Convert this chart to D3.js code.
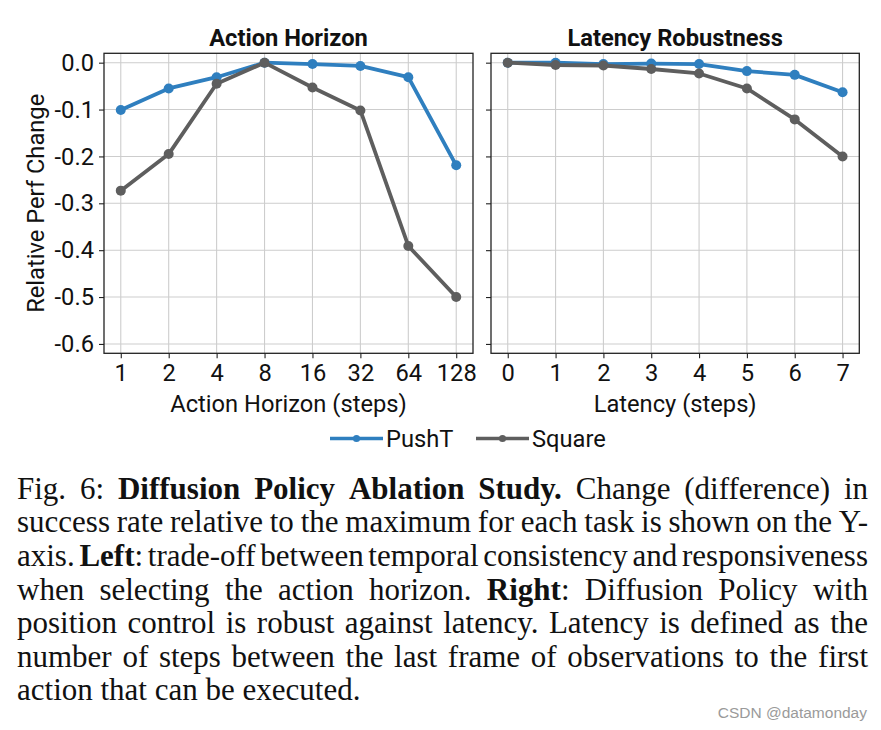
<!DOCTYPE html>
<html>
<head>
<meta charset="utf-8">
<script src="https://cdn.jsdelivr.net/npm/d3@7"></script>
<style>
  html, body { margin: 0; padding: 0; background: #fff; }
  svg { display: block; }
</style>
</head>
<body>
<svg id="chart" width="881" height="730"></svg>
<script>
// ---------- data ----------
const horizonCats = ["1", "2", "4", "8", "16", "32", "64", "128"];
const latencyCats = ["0", "1", "2", "3", "4", "5", "6", "7"];
const horizonPushT  = [-0.101, -0.055, -0.031, 0.000, -0.003, -0.007, -0.031, -0.219];
const horizonSquare = [-0.273, -0.195, -0.045, 0.000, -0.053, -0.102, -0.391, -0.500];
const latencyPushT  = [0.000, 0.000, -0.003, -0.002, -0.003, -0.018, -0.026, -0.063];
const latencySquare = [0.000, -0.005, -0.006, -0.0135, -0.023, -0.055, -0.121, -0.200];
const yTicks = [0, -0.1, -0.2, -0.3, -0.4, -0.5, -0.6];
const yTickLabels = ["0.0", "-0.1", "-0.2", "-0.3", "-0.4", "-0.5", "-0.6"];
const seriesNames = ["PushT", "Square"];
const seriesColors = ["#2f7fbf", "#5e5e5e"];
const panelTitles = ["Action Horizon", "Latency Robustness"];
const xLabels = ["Action Horizon (steps)", "Latency (steps)"];
const yLabel = "Relative Perf Change";

const captionLines = [
  [["Fig. 6: ", false], ["Diffusion Policy Ablation Study.", true], [" Change (difference) in", false]],
  [["success rate relative to the maximum for each task is shown on the Y-", false]],
  [["axis. ", false], ["Left", true], [": trade-off between temporal consistency and responsiveness", false]],
  [["when selecting the action horizon. ", false], ["Right", true], [": Diffusion Policy with", false]],
  [["position control is robust against latency. Latency is defined as the", false]],
  [["number of steps between the last frame of observations to the first", false]],
  [["action that can be executed.", false]]
];
const watermark = "CSDN @datamonday";

// ---------- layout ----------
const svg = d3.select("#chart");
svg.append("rect").attr("width", 881).attr("height", 730).attr("fill", "#fff");
const FONT = "Roboto, 'Noto Sans', sans-serif";
const FS = 23.7;
const plotTop = 53.3, plotBottom = 353.3;
const panels = [
  {x0: 104, x1: 473, cats: horizonCats, data: [horizonPushT, horizonSquare], labels: true},
  {x0: 491, x1: 859.3, cats: latencyCats, data: [latencyPushT, latencySquare], labels: false}
];
const y = d3.scaleLinear().domain([-0.62, 0.02]).range([plotBottom, plotTop]);

panels.forEach((p, pi) => {
  const g = svg.append("g");
  const x = d3.scalePoint().domain(p.cats).range([p.x0, p.x1]).padding(0.35);
  // grid
  g.append("g").selectAll("line").data(p.cats).join("line")
    .attr("x1", d => x(d)).attr("x2", d => x(d)).attr("y1", plotTop).attr("y2", plotBottom)
    .attr("stroke", "#cdcdcd").attr("stroke-width", 1.1);
  g.append("g").selectAll("line").data(yTicks).join("line")
    .attr("x1", p.x0).attr("x2", p.x1).attr("y1", d => y(d)).attr("y2", d => y(d))
    .attr("stroke", "#cdcdcd").attr("stroke-width", 1.1);
  // axes
  const ax = g.append("g").attr("transform", `translate(0,${plotBottom})`)
    .call(d3.axisBottom(x).tickSize(5).tickPadding(6));
  const ay = g.append("g").attr("transform", `translate(${p.x0},0)`)
    .call(d3.axisLeft(y).tickValues(yTicks).tickSize(5).tickPadding(5)
      .tickFormat((d, i) => p.labels ? yTickLabels[i] : ""));
  [ax, ay].forEach(a => {
    a.select(".domain").remove();
    a.selectAll(".tick line").attr("stroke", "#222").attr("stroke-width", 1.1);
    a.selectAll(".tick text").attr("font-family", FONT).attr("font-size", FS).attr("fill", "#111");
  });
  // frame
  g.append("rect").attr("x", p.x0).attr("y", plotTop).attr("width", p.x1 - p.x0).attr("height", plotBottom - plotTop)
    .attr("fill", "none").attr("stroke", "#222").attr("stroke-width", 1.3);
  // series
  p.data.forEach((vals, si) => {
    const line = d3.line().x((d, i) => x(p.cats[i])).y(d => y(d));
    g.append("path").datum(vals).attr("d", line).attr("fill", "none")
      .attr("stroke", seriesColors[si]).attr("stroke-width", 3.8).attr("stroke-linejoin", "round");
    g.append("g").selectAll("circle").data(vals).join("circle")
      .attr("cx", (d, i) => x(p.cats[i])).attr("cy", d => y(d)).attr("r", 5)
      .attr("fill", seriesColors[si]);
  });
  // title
  g.append("text").attr("x", (p.x0 + p.x1) / 2).attr("y", 45.5).attr("text-anchor", "middle")
    .attr("font-family", FONT).attr("font-size", FS).attr("font-weight", "bold").attr("fill", "#111")
    .text(panelTitles[pi]);
  // x label
  g.append("text").attr("x", (p.x0 + p.x1) / 2).attr("y", 412).attr("text-anchor", "middle")
    .attr("font-family", FONT).attr("font-size", FS).attr("fill", "#111")
    .text(xLabels[pi]);
});
// y label
svg.append("text").attr("transform", `translate(44,${(plotTop + plotBottom) / 2}) rotate(-90)`)
  .attr("text-anchor", "middle").attr("font-family", FONT).attr("font-size", FS).attr("fill", "#111")
  .text(yLabel);

// legend
const legendItems = [{x: 330, name: seriesNames[0], c: seriesColors[0]}, {x: 476, name: seriesNames[1], c: seriesColors[1]}];
legendItems.forEach(it => {
  svg.append("line").attr("x1", it.x).attr("x2", it.x + 53).attr("y1", 438.5).attr("y2", 438.5)
    .attr("stroke", it.c).attr("stroke-width", 3.6);
  svg.append("circle").attr("cx", it.x + 26.5).attr("cy", 438.5).attr("r", 3.6).attr("fill", it.c);
  svg.append("text").attr("x", it.x + 56).attr("y", 446.5).attr("font-family", FONT).attr("font-size", FS)
    .attr("fill", "#111").text(it.name);
});

// caption (justified, word by word)
const CFONT = "'Liberation Serif', 'Times New Roman', serif";
const CFS = 31;
const cx0 = 17, cx1 = 868;
const baselines = [498.7, 532.3, 565.9, 599.5, 633.1, 666.7, 700.3];
const cap = svg.append("g");
captionLines.forEach((segs, li) => {
  const words = [];
  let cur = null;
  segs.forEach(([txt, bold]) => {
    const parts = txt.split(/( )/);
    parts.forEach(part => {
      if (part === " ") { cur = null; return; }
      if (part === "") return;
      if (!cur) { cur = []; words.push(cur); }
      cur.push([part, bold]);
    });
  });
  const lineG = cap.append("g");
  const nodes = words.map(w => {
    const t = lineG.append("text").attr("y", baselines[li]).attr("font-family", CFONT)
      .attr("font-size", CFS).attr("fill", "#111");
    w.forEach(([s, b]) => t.append("tspan").attr("font-weight", b ? "bold" : "normal").text(s));
    return t;
  });
  const widths = nodes.map(n => n.node().getComputedTextLength());
  const sum = d3.sum(widths);
  const last = li === captionLines.length - 1;
  let gap = last ? CFS * 0.25 : (cx1 - cx0 - sum) / (nodes.length - 1);
  let scale = 1;
  if (!last && gap < 4) { gap = 4; scale = (cx1 - cx0) / (sum + gap * (nodes.length - 1)); }
  let xx = cx0;
  nodes.forEach((n, i) => { n.attr("x", xx); xx += widths[i] + gap; });
  if (scale !== 1) lineG.attr("transform", `translate(${cx0},0) scale(${scale},1) translate(${-cx0},0)`);
});

// watermark
svg.append("text").attr("x", 867).attr("y", 718).attr("text-anchor", "end")
  .attr("font-family", "'Liberation Sans', Arial, sans-serif").attr("font-size", 15.5)
  .attr("fill", "#9a9a9a").text(watermark);
</script>
</body>
</html>
